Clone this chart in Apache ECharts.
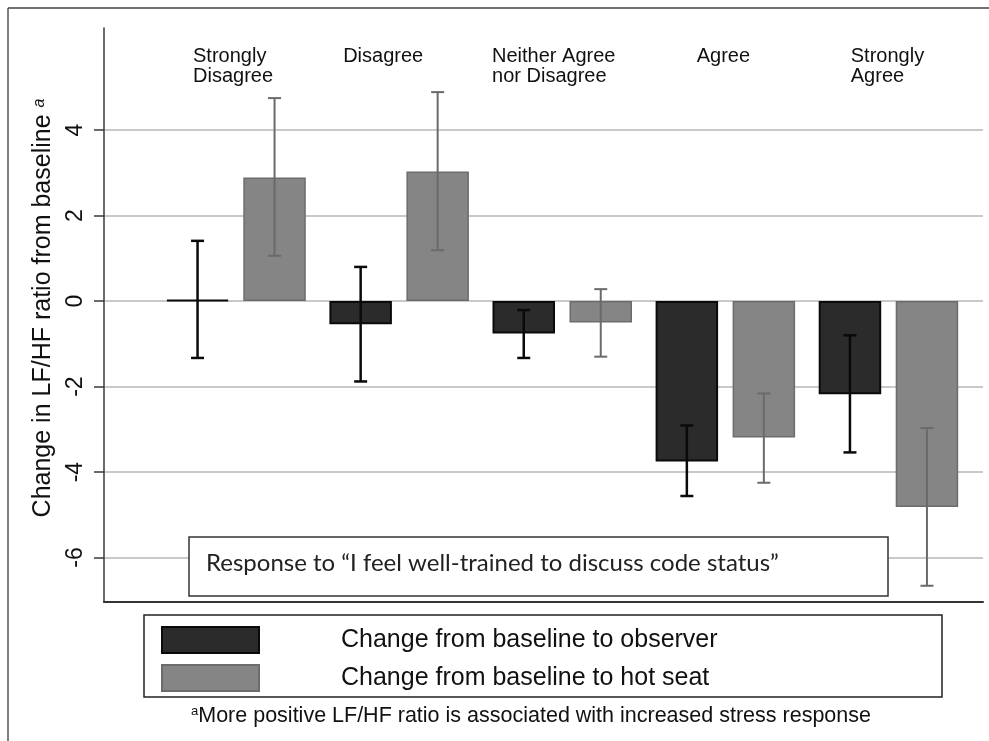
<!DOCTYPE html>
<html>
<head>
<meta charset="utf-8">
<script src="https://cdn.jsdelivr.net/npm/echarts@6.0.0/dist/echarts.min.js"></script>
<style>
  html, body { margin: 0; padding: 0; background: #fff; }
  #chart { width: 989px; height: 741px; }
</style>
</head>
<body>
<div id="chart"></div>
<script>
// ---- data ----
const categories = ['Strongly\nDisagree', 'Disagree', 'Neither Agree\nnor Disagree', 'Agree', 'Strongly\nAgree'];
const seriesNames = ['Change from baseline to observer', 'Change from baseline to hot seat'];
const observerMean = [0.03, -0.54, -0.76, -3.75, -2.18];
const observerLow  = [-1.33, -1.88, -1.33, -4.56, -3.54];
const observerHigh = [1.41, 0.80, -0.21, -2.91, -0.80];
const hotSeatMean  = [2.89, 3.03, -0.50, -3.19, -4.82];
const hotSeatLow   = [1.06, 1.19, -1.30, -4.25, -6.66];
const hotSeatHigh  = [4.75, 4.89, 0.28, -2.16, -2.97];
const yTicks = [-6, -4, -2, 0, 2, 4];
const yRange = [-7.04, 6.39];
const yTitle = 'Change in LF/HF ratio from baseline';
const boxText = 'Response to \u201cI feel well-trained to discuss code status\u201d';
const footnote = 'More positive LF/HF ratio is associated with increased stress response';

// ---- styling ----
const SANS = "'Liberation Sans', Arial, sans-serif";
const BAR_W = 62.5;
const BAR_GAP = 0.232;
const barOffset = (BAR_W + BAR_W * BAR_GAP) / 2;
const OBS_COLOR = '#2b2b2b';
const HOT_COLOR = '#858585';
// per-category label shifts (right padding moves the centred block left)
const labelPad = [6, 32, 17, 4, 2];

const chart = echarts.init(document.getElementById('chart'), null, { renderer: 'canvas' });

function errRender(sign, color, lw) {
  return function (params, api) {
    const idx = api.value(0);
    const lo = api.coord([idx, api.value(1)]);
    const hi = api.coord([idx, api.value(2)]);
    const x = lo[0] + sign * barOffset;
    const cap = 6.5;
    const st = { stroke: color, lineWidth: lw };
    return {
      type: 'group',
      children: [
        { type: 'line', shape: { x1: x, y1: hi[1], x2: x, y2: lo[1] }, style: st },
        { type: 'line', shape: { x1: x - cap, y1: hi[1], x2: x + cap, y2: hi[1] }, style: st },
        { type: 'line', shape: { x1: x - cap, y1: lo[1], x2: x + cap, y2: lo[1] }, style: st }
      ]
    };
  };
}

const rich = {};
categories.forEach((c, i) => {
  rich['c' + i] = { align: 'left', fontSize: 20, lineHeight: 20, fontFamily: SANS, color: '#111', padding: [0, labelPad[i], 0, 0] };
});

const option = {
  backgroundColor: '#fff',
  animation: false,
  grid: [
    { left: 104, right: 6, top: 28, bottom: 139, outerBoundsMode: 'none' },
    { left: 154.5, right: 19, top: 28, bottom: 139, outerBoundsMode: 'none' }
  ],
  xAxis: [
    {
      gridIndex: 0, type: 'value', min: 0, max: 1,
      axisLine: { show: true, onZero: false, lineStyle: { color: '#333', width: 2 } },
      axisTick: { show: false }, axisLabel: { show: false }, splitLine: { show: false }
    },
    {
      gridIndex: 1, type: 'category', data: categories, position: 'top',
      axisLine: { show: false }, axisTick: { show: false }, splitLine: { show: false },
      axisLabel: {
        inside: true, margin: 18, interval: 0,
        formatter: function (value, index) {
          return value.split('\n').map(s => '{c' + index + '|' + s + '}').join('\n');
        },
        rich: rich
      }
    }
  ],
  yAxis: [
    {
      gridIndex: 0, type: 'value', min: yRange[0], max: yRange[1],
      axisLine: { show: true, onZero: false, lineStyle: { color: '#3a3a3a', width: 1.5 } },
      axisTick: { show: true, length: 10, customValues: yTicks, lineStyle: { color: '#3a3a3a', width: 1.5 } },
      axisLabel: { customValues: yTicks, rotate: 90, fontSize: 23, fontFamily: SANS, color: '#111', margin: 17 },
      splitLine: { show: true, lineStyle: { color: '#c9c9c9', width: 2 } },
      name: '{t|' + yTitle + ' }{s|a}',
      nameLocation: 'middle', nameGap: 47, nameRotate: 90,
      nameTextStyle: {
        padding: [0, 0, 0, 14],
        rich: {
          t: { fontSize: 25, fontFamily: SANS, color: '#111' },
          s: { fontSize: 16, fontFamily: SANS, fontStyle: 'italic', color: '#111', verticalAlign: 'top' }
        }
      }
    },
    {
      gridIndex: 1, type: 'value', min: yRange[0], max: yRange[1], show: false,
      splitLine: { show: false }
    }
  ],
  legend: {
    orient: 'vertical', left: 161, top: 626, padding: 0,
    itemWidth: 97, itemHeight: 26, itemGap: 10,
    icon: 'rect',
    data: seriesNames,
    selectedMode: false,
    formatter: function (n) { return '{t|' + n + '}'; },
    textStyle: {
      rich: { t: { fontSize: 25, lineHeight: 26, fontFamily: SANS, color: '#111', padding: [0, 0, 0, 77] } }
    }
  },
  series: [
    {
      name: seriesNames[0], type: 'bar', xAxisIndex: 1, yAxisIndex: 1,
      data: observerMean, barWidth: BAR_W, barGap: (BAR_GAP * 100) + '%',
      itemStyle: { color: OBS_COLOR, borderColor: '#0a0a0a', borderWidth: 2 }
    },
    {
      name: seriesNames[1], type: 'bar', xAxisIndex: 1, yAxisIndex: 1,
      data: hotSeatMean, barWidth: BAR_W, barGap: (BAR_GAP * 100) + '%',
      itemStyle: { color: HOT_COLOR, borderColor: '#6c6c6c', borderWidth: 1.5 }
    },
    {
      type: 'custom', xAxisIndex: 1, yAxisIndex: 1, z: 5,
      renderItem: errRender(-1, '#0a0a0a', 2.5),
      encode: { x: 0, y: [1, 2] },
      data: categories.map((c, i) => [i, observerLow[i], observerHigh[i]])
    },
    {
      type: 'custom', xAxisIndex: 1, yAxisIndex: 1, z: 5,
      renderItem: errRender(1, '#6a6a6a', 2),
      encode: { x: 0, y: [1, 2] },
      data: categories.map((c, i) => [i, hotSeatLow[i], hotSeatHigh[i]])
    }
  ],
  graphic: [
    // outer frame (top and left edges)
    { type: 'line', shape: { x1: 8, y1: 8, x2: 989, y2: 8 }, style: { stroke: '#444', lineWidth: 1.5 }, z: 10 },
    { type: 'line', shape: { x1: 8, y1: 8, x2: 8, y2: 741 }, style: { stroke: '#555', lineWidth: 1.5 }, z: 10 },
    // response box
    { type: 'rect', shape: { x: 189, y: 537, width: 699, height: 59 }, style: { fill: '#fff', stroke: '#333', lineWidth: 1.5 }, z: 10 },
    { type: 'text', x: 206, y: 563, style: { text: boxText, fontFamily: "Lato, 'Open Sans', sans-serif", fontSize: 24, fill: '#222', verticalAlign: 'middle' }, z: 11 },
    // legend box
    { type: 'rect', shape: { x: 144, y: 615, width: 798, height: 82 }, style: { fill: 'none', stroke: '#222', lineWidth: 1.5 }, z: 10 },
    // footnote
    {
      type: 'text', x: 191, y: 705, z: 11,
      style: {
        text: '{s|a}{t|' + footnote + '}',
        rich: {
          s: { fontSize: 13, fontFamily: SANS, fill: '#111', verticalAlign: 'top' },
          t: { fontSize: 21.5, fontFamily: SANS, fill: '#111' }
        }
      }
    }
  ]
};

chart.setOption(option);
</script>
</body>
</html>
